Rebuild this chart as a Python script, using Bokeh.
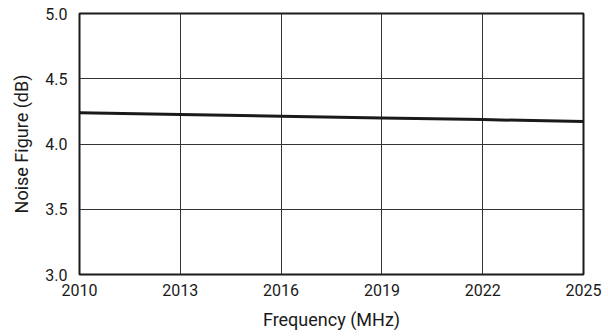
from bokeh.plotting import figure
from bokeh.models import Range1d, FixedTicker, CustomJSTickFormatter
from bokeh.embed import file_html
from bokeh.resources import INLINE

freq = [2010, 2013, 2016, 2019, 2022, 2025]
nf = [4.24, 4.227, 4.213, 4.2, 4.187, 4.172]
x_ticks = [2010, 2013, 2016, 2019, 2022, 2025]
y_ticks = [3.0, 3.5, 4.0, 4.5, 5.0]

p = figure(width=608, height=336, output_backend="svg", toolbar_location=None,
           x_range=Range1d(2010, 2025), y_range=Range1d(3.0, 5.0),
           min_border_left=79, min_border_right=25, min_border_top=13, min_border_bottom=62)
p.line(freq, nf, line_color="#1a1a1a", line_width=3)

font = "Roboto"
for ax in (p.xaxis, p.yaxis):
    ax.axis_line_color = None
    ax.major_tick_line_color = None
    ax.minor_tick_line_color = None
    ax.major_label_text_font = font
    ax.major_label_text_font_size = "16px"
    ax.major_label_text_color = "#1a1a1a"
    ax.axis_label_text_font = font
    ax.axis_label_text_font_size = "18px"
    ax.axis_label_text_font_style = "normal"
    ax.axis_label_text_color = "#1a1a1a"
p.xaxis.ticker = FixedTicker(ticks=x_ticks)
p.yaxis.ticker = FixedTicker(ticks=y_ticks)
p.yaxis.formatter = CustomJSTickFormatter(code="return tick.toFixed(1);")
p.xaxis.axis_label = "Frequency (MHz)"
p.yaxis.axis_label = "Noise Figure (dB)"
p.xaxis.major_label_standoff = 3
p.yaxis.major_label_standoff = 6
p.xaxis.axis_label_standoff = 10
p.yaxis.axis_label_standoff = 10

p.xgrid.ticker = FixedTicker(ticks=x_ticks)
p.ygrid.ticker = FixedTicker(ticks=y_ticks)
p.grid.grid_line_color = "#333333"
p.grid.grid_line_width = 1
p.grid.grid_line_alpha = 1
p.outline_line_color = "#1a1a1a"
p.outline_line_width = 2
p.outline_line_alpha = 1
p.background_fill_color = "white"
p.border_fill_color = "white"

open("out.html", "w").write(file_html(p, INLINE))
